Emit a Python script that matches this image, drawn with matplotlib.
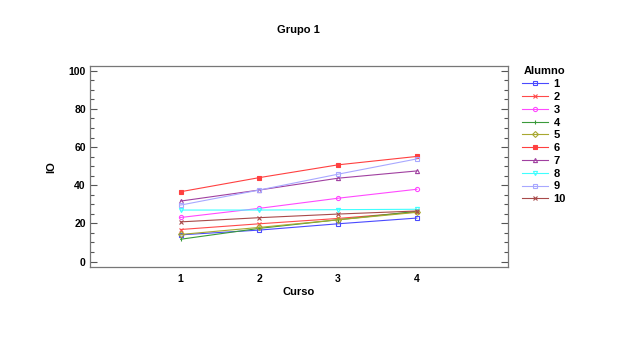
import matplotlib
matplotlib.use("Agg")
import matplotlib.pyplot as plt
from matplotlib.ticker import MultipleLocator

plt.rcParams['font.family'] = ['Liberation Sans', 'DejaVu Sans']

# Data
curso = [1, 2, 3, 4]
alumnos = ["1", "2", "3", "4", "5", "6", "7", "8", "9", "10"]
io_values = [
    [14.0, 16.5, 19.8, 22.8],
    [16.8, 19.8, 22.6, 26.0],
    [23.1, 27.9, 33.2, 37.9],
    [11.7, 17.4, 21.9, 26.3],
    [14.2, 17.9, 21.9, 25.8],
    [36.6, 44.0, 50.7, 55.1],
    [31.7, 37.5, 43.7, 47.5],
    [27.0, 27.0, 27.2, 27.4],
    [29.6, 37.5, 45.8, 53.8],
    [20.8, 23.0, 24.9, 26.5],
]

colors = ["#4a4aff", "#ff4a4a", "#ff4aff", "#3a9a3a", "#a8a830",
          "#ff4040", "#a040a0", "#40ffff", "#a8a8ff", "#a84a4a"]
markers = ["s", "x", "o", "|", "D", "s", "^", "v", "s", "x"]
fills = ["none", "full", "none", "full", "none", "full", "none", "none", "none", "full"]

fig = plt.figure(figsize=(6.25, 3.51), dpi=100)
ax = fig.add_axes([0.144, 0.2385, 0.668, 0.5735])

for name, vals, c, m, f in zip(alumnos, io_values, colors, markers, fills):
    ax.plot(curso, vals, color=c, lw=0.8, marker=m, markersize=3,
            markerfacecolor=(c if f == "full" else "none"),
            markeredgecolor=c, markeredgewidth=0.8, label=name)

ax.set_xlim(-0.15, 5.15)
ax.set_ylim(-3, 102.5)
ax.set_xticks(curso)
ax.yaxis.set_major_locator(MultipleLocator(20))
ax.yaxis.set_minor_locator(MultipleLocator(5))
ax.tick_params(axis='x', length=0, labelsize=7.5, pad=5)
ax.tick_params(axis='y', which='major', direction='in', length=5, width=0.8,
               color='#555555', labelsize=7.5, right=True, pad=3)
ax.tick_params(axis='y', which='minor', direction='in', length=3, width=0.8,
               color='#555555', right=True)
for lab in ax.get_xticklabels() + ax.get_yticklabels():
    lab.set_fontweight('bold')
for s in ax.spines.values():
    s.set_color('#777777')
    s.set_linewidth(0.9)

ax.set_xlabel("Curso", fontsize=8, fontweight='bold', labelpad=2)
ax.set_ylabel("IO", fontsize=8, fontweight='bold', labelpad=9)
ax.set_title("Grupo 1", fontsize=8, fontweight='bold', pad=24)

leg = ax.legend(loc='upper left', bbox_to_anchor=(1.025, 1.02), frameon=False,
                title="Alumno", fontsize=8, title_fontsize=8,
                handlelength=2.3, handletextpad=0.5, labelspacing=0.25,
                borderaxespad=0)
leg.get_title().set_fontweight('bold')
for t in leg.get_texts():
    t.set_fontweight('bold')

fig.savefig("out.png", dpi=100)
